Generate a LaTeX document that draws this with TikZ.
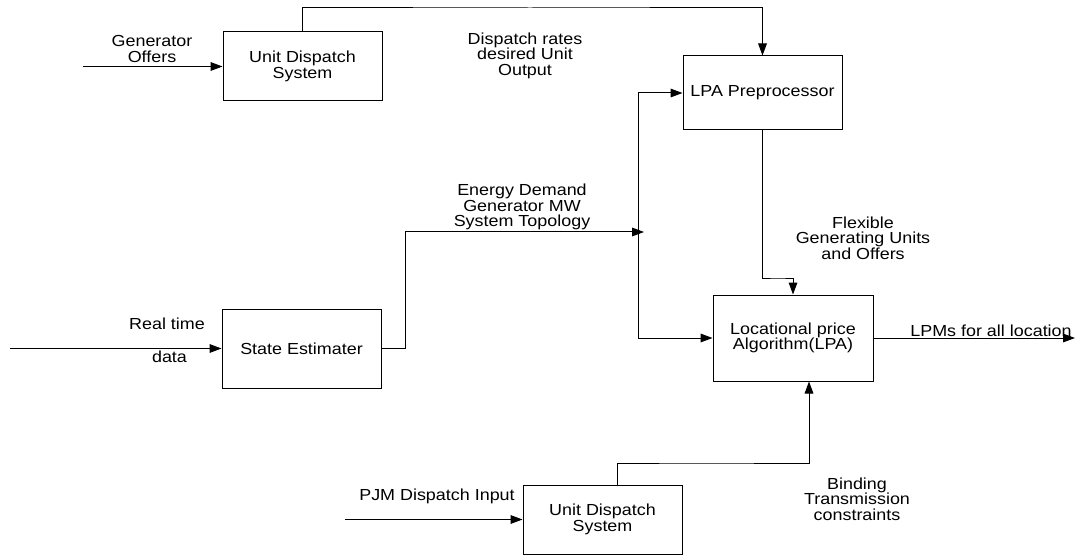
\documentclass[tikz,border=0pt]{standalone}
\usepackage{fontspec}
\setmainfont[FakeStretch=1.12]{Liberation Sans}
\usetikzlibrary{arrows.meta,calc}
\begin{document}
\begin{tikzpicture}[x=0.75pt,y=-0.75pt,
  box/.style={draw,line width=0.75pt,inner sep=0pt,align=center,font=\fontsize{12pt}{11.6pt}\selectfont},
  lbl/.style={inner sep=0pt,align=center,font=\fontsize{12pt}{11.6pt}\selectfont},
  conn/.style={line width=0.75pt},
  arr/.style={conn,-{Triangle[length=9pt,width=6.5pt]}}]
\useasboundingbox (0,0) rectangle (1075,556);
% boxes
\node[box,minimum width=119.25pt,minimum height=51.75pt] (uds1) at (302.5,66.5) {Unit Dispatch\\System};
\node[box,minimum width=119.25pt,minimum height=55.5pt] (pre) at (762.5,93) {LPA Preprocessor};
\node[box,minimum width=119.25pt,minimum height=59.25pt] (se) at (301.5,348.5) {State Estimater};
\node[box,minimum width=120pt,minimum height=64.5pt] (lpa) at (793,338) {Locational price\\Algorithm(LPA)};
\node[box,minimum width=119.25pt,minimum height=51.75pt] (uds2) at (602.5,519.5) {Unit Dispatch\\System};
% free ends
\coordinate (gin) at (83,66.5);
\coordinate (rin) at (10,348.5);
\coordinate (pin) at (345,519.5);
\coordinate (lout) at (1075,338);
\coordinate (top) at (530,8);
\coordinate (jt) at (638,93);
\coordinate (jm) at (644,232);
\coordinate (sebend) at (405,348.5);
\coordinate (prebend) at (778,278);
\coordinate (udsbend) at (700,463);
% connectors
\draw[arr] (gin) -- (uds1.west);
\draw[arr] (uds1.north) |- (top) -| (pre.north);
\draw[arr] (rin) -- (se.west);
\draw[arr] (se.east) -- (sebend) |- (jm);
\draw[arr] (jt) -- (pre.west);
\draw[arr] (jt) |- (lpa.west);
\draw[arr] (pre.south) |- (prebend) -| (lpa.north);
\draw[arr] (lpa.east) -- (lout);
\draw[arr] (pin) -- (uds2.west);
\draw[arr] ([xshift=11.6pt]uds2.north) |- (udsbend) -| ([xshift=12pt]lpa.south);
% labels
\node[lbl] (l1) at (152,49) {Generator\\Offers};
\node[lbl] (l2) at (525,55.5) {Dispatch rates\\desired Unit\\Output};
\node[lbl] (l3) at (522,207) {Energy Demand\\Generator MW\\System Topology};
\node[lbl] (l4) at (863,238) {Flexible\\Generating Units\\and Offers};
\node[lbl] (l5) at (167,324) {Real time};
\node[lbl] (l6) at (169.5,357) {data};
\node[lbl] (l7) at (991,331) {LPMs for all location};
\node[lbl] (l8) at (437,496) {PJM Dispatch Input};
\node[lbl] (l9) at (857,499) {Binding\\Transmission\\constraints};
\end{tikzpicture}
\end{document}
